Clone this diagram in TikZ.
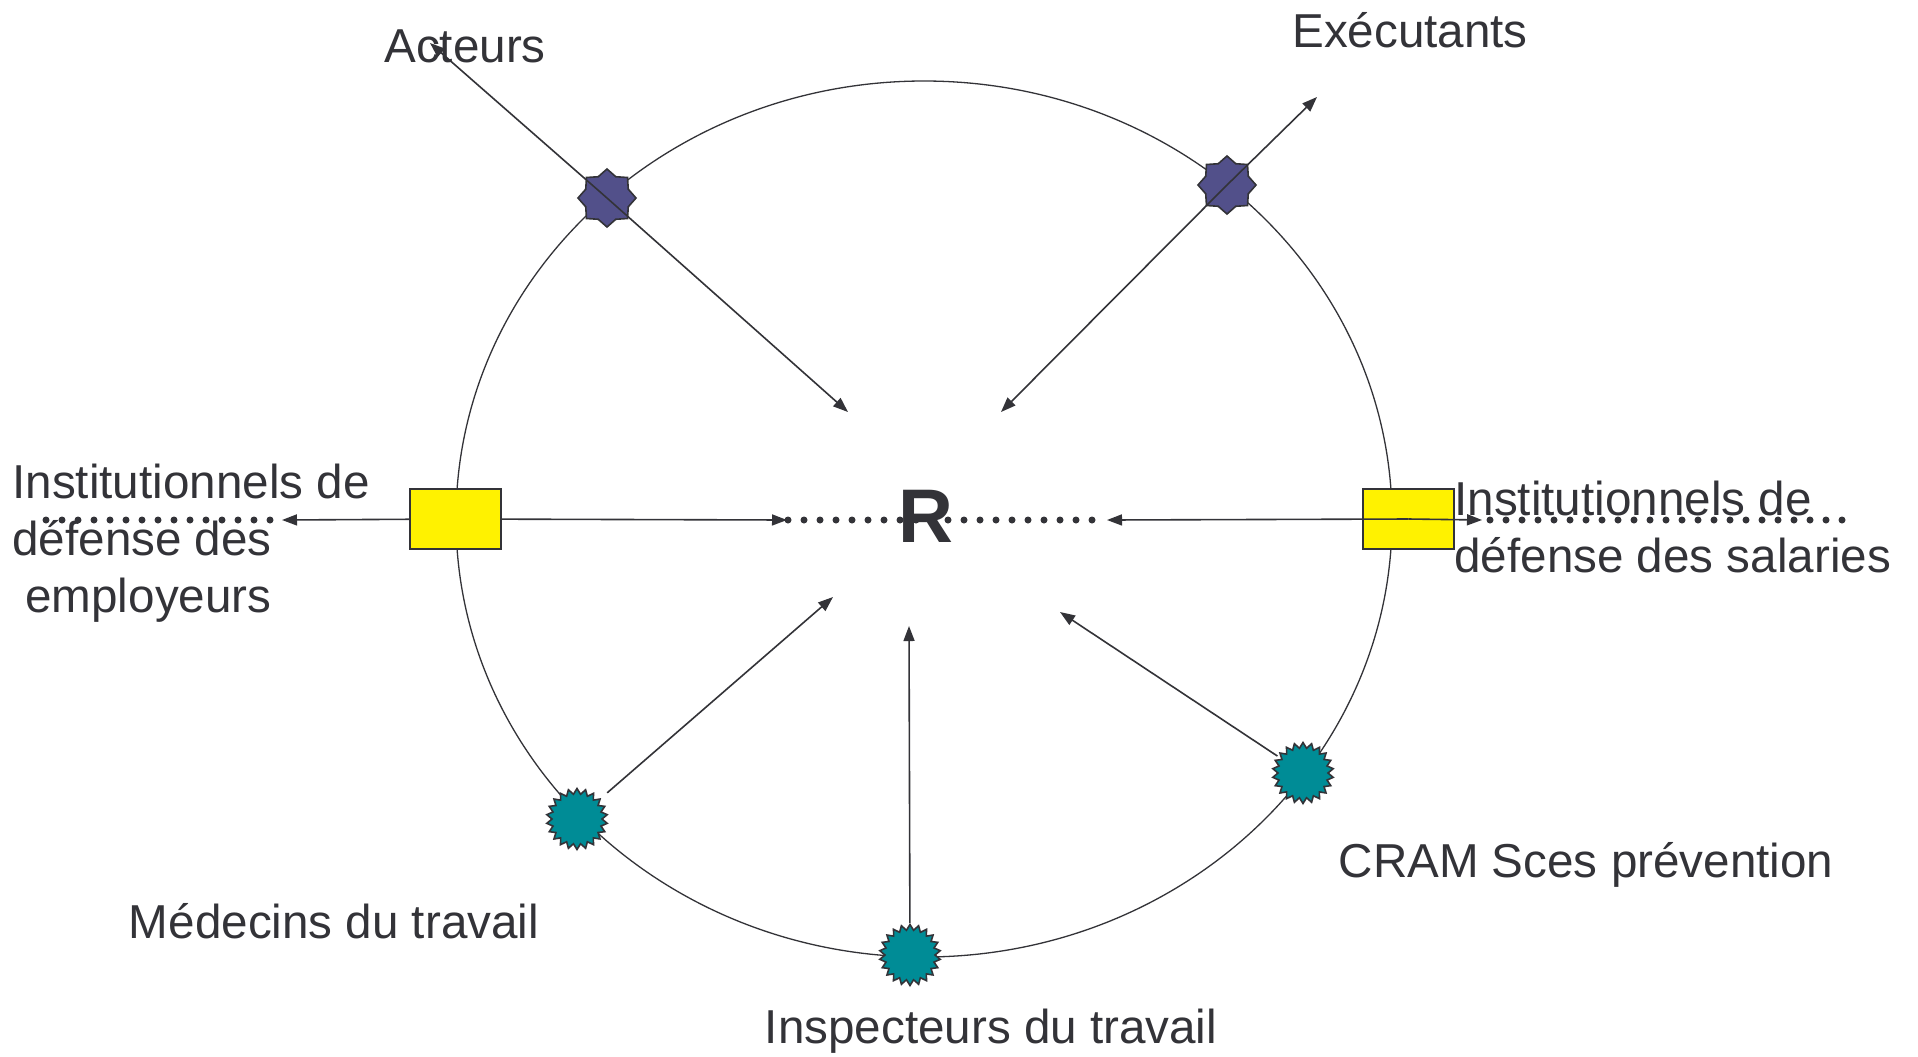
\documentclass[tikz,border=0pt]{standalone}
\usepackage{fontspec}
\setmainfont{Liberation Sans}
\usetikzlibrary{shapes.geometric,arrows.meta}
\definecolor{ink}{RGB}{51,51,56}
\definecolor{purplestar}{RGB}{82,80,138}
\definecolor{tealstar}{RGB}{0,140,150}
\definecolor{boxyellow}{RGB}{255,242,0}
\begin{document}
\begin{tikzpicture}[x=0.5pt,y=-0.5pt,
  lbl/.style={inner sep=0pt,text=ink,font=\fontsize{23.8pt}{28.5pt}\selectfont},
  conn/.style={draw=ink,line width=0.8pt,-{Triangle[length=7.5pt,width=5.5pt]}},
  dots/.style={draw=ink,line width=3.5pt,line cap=round,dash pattern=on 0pt off 8pt},
  purplestarnode/.style={star,star points=8,star point ratio=1.26,minimum size=29pt,inner sep=0pt,fill=purplestar,draw=ink,line width=0.8pt},
  tealstarnode/.style={star,star points=22,star point ratio=1.22,minimum size=30.5pt,inner sep=0pt,fill=tealstar,draw=ink,line width=0.8pt},
  yellowbox/.style={rectangle,minimum width=45.5pt,minimum height=30pt,inner sep=0pt,fill=boxyellow,draw=ink,line width=0.8pt}
]
\useasboundingbox (0,0) rectangle (1918,1056);
\fill[white] (0,0) rectangle (1918,1056);

% circle
\draw[ink,line width=0.65pt] (924,519) ellipse [x radius=468, y radius=438];

% coordinates
\coordinate (acteursTip) at (430,43);
\coordinate (cTL) at (848,412);
\coordinate (execTip) at (1317,97);
\coordinate (cTR) at (1001,412);
\coordinate (leftTip) at (282,520);
\coordinate (cL) at (787,520);
\coordinate (cR) at (1107,520);
\coordinate (rightTip) at (1482,520);
\coordinate (cBL) at (833,597);
\coordinate (cB) at (909,626);
\coordinate (cBR) at (1060,612);

% center
\node[inner sep=0pt,text=ink,font=\fontsize{38pt}{40pt}\selectfont\bfseries,anchor=base] (R) at (926,542) {R};
\draw[dots] (788,520) -- (1093,520);
\draw[dots] (46,520) -- (276,520);
\draw[dots] (1490,520) -- (1849,520);

% stars top
\node[purplestarnode] (s1) at (607,198) {};
\node[purplestarnode] (s2) at (1227,185) {};
\draw[conn] (s1.center) -- (acteursTip);
\draw[conn] (s1.center) -- (cTL);
\draw[conn] (s2.center) -- (execTip);
\draw[conn] (s2.center) -- (cTR);

% boxes
\draw[conn] (455.5,519) -- (leftTip);
\draw[conn] (455.5,519) -- (cL);
\node[yellowbox] (bL) at (455.5,519) {};
\node[yellowbox] (bR) at (1408.5,519) {};
\draw[conn] (bR.center) -- (cR);
\draw[conn] (bR.center) -- (rightTip);

% teal stars
\node[tealstarnode] (t1) at (577,819) {};
\node[tealstarnode] (t2) at (910,955) {};
\node[tealstarnode] (t3) at (1303,773) {};
\draw[conn,shorten <=4pt] (t1) -- (cBL);
\draw[conn] (t2) -- (cB);
\draw[conn,shorten <=2pt] (t3) -- (cBR);

% labels
\node[lbl,anchor=base] (acteurs) at (465,62) {Acteurs};
\node[lbl,anchor=base] (exec) at (1410,47) {Exécutants};
\node[lbl,anchor=base] (medecins) at (334,938) {Médecins du travail};
\node[lbl,anchor=base] (inspect) at (991,1043) {Inspecteurs du travail};
\node[lbl,anchor=base] (cram) at (1586,877) {CRAM Sces prévention};
\node[lbl,anchor=base west,align=left] (instL) at (12,612) {Institutionnels de\\défense des\\\hspace*{6.5pt}employeurs};
\node[lbl,anchor=base west,align=left] (instR) at (1454,572) {Institutionnels de\\défense des salaries};
\end{tikzpicture}
\end{document}
